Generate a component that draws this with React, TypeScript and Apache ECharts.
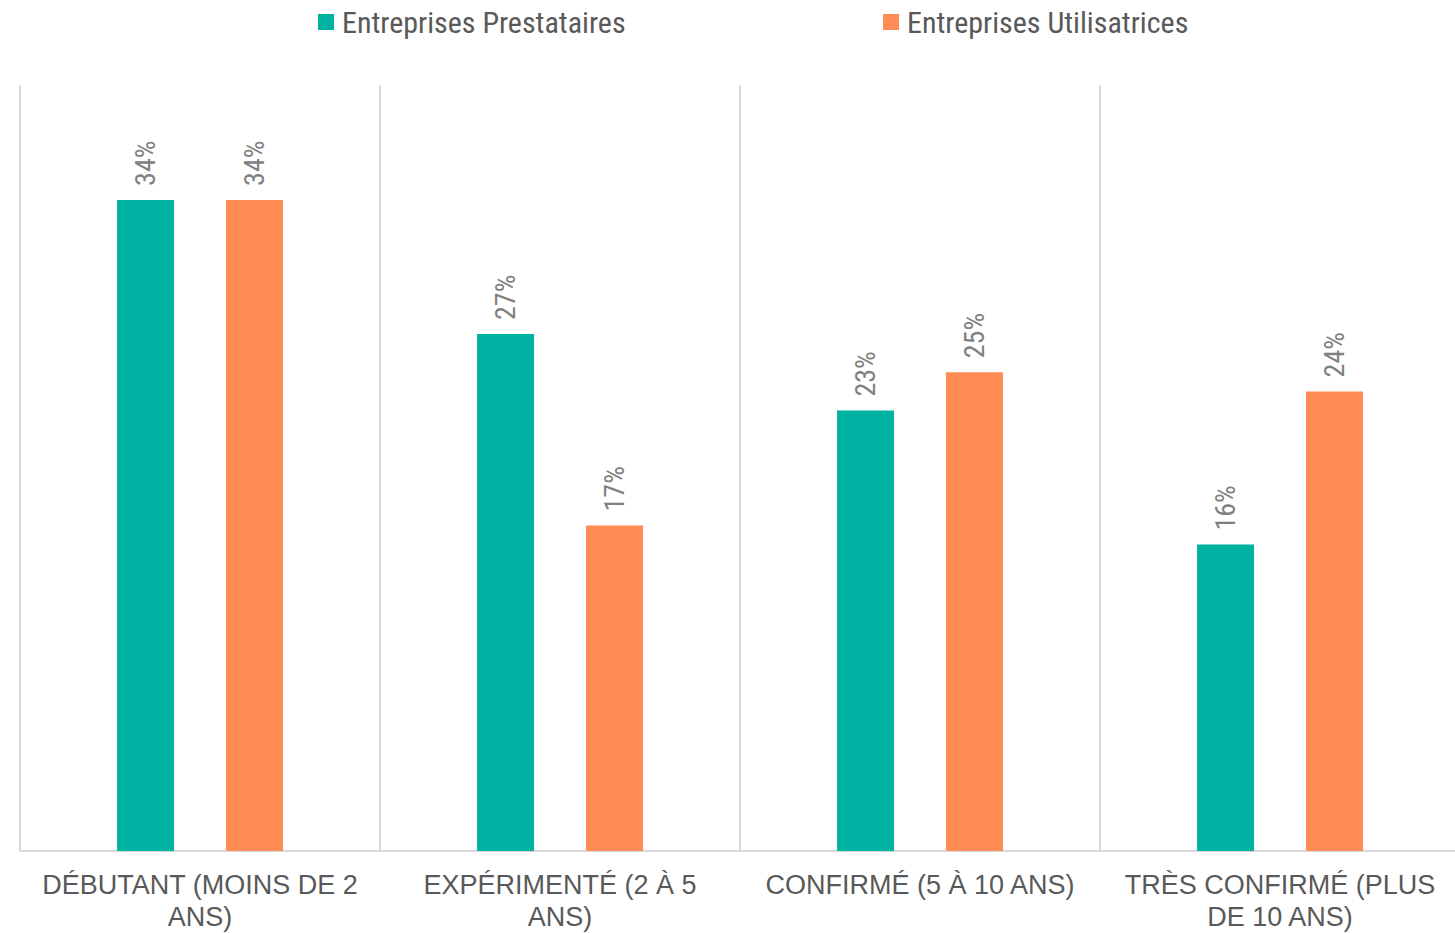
import React, { useEffect, useRef } from "react";
import * as echarts from "echarts";

const categories = [
  "DÉBUTANT (MOINS DE 2\nANS)",
  "EXPÉRIMENTÉ (2 À 5\nANS)",
  "CONFIRMÉ (5 À 10 ANS)",
  "TRÈS CONFIRMÉ (PLUS\nDE 10 ANS)",
];
const prestataires = [34, 27, 23, 16];
const utilisatrices = [34, 17, 25, 24];
const seriesNames = ["Entreprises Prestataires", "Entreprises Utilisatrices"];
const colors = ["#00B2A2", "#FF8B55"];

const narrow = "'Liberation Sans Narrow', 'Roboto Condensed', 'Arial Narrow', Roboto, sans-serif";

export default function App() {
  const ref = useRef<HTMLDivElement>(null);
  useEffect(() => {
    if (!ref.current) return;
    const chart = echarts.init(ref.current, undefined, { renderer: "svg" });
    const label = {
      show: true,
      position: "top",
      rotate: 90,
      align: "left",
      verticalAlign: "middle",
      distance: 14,
      formatter: "{c}%",
      color: "#808080",
      fontSize: 28,
      fontFamily: narrow,
    };
    const legendText = {
      color: "#595959",
      fontSize: 30,
      fontFamily: narrow,
      padding: [0, 0, 0, 3],
    };
    chart.setOption({
      animation: false,
      color: colors,
      legend: [
        {
          data: [seriesNames[0]],
          left: 318,
          top: 7,
          padding: 0,
          itemWidth: 16,
          itemHeight: 16,
          icon: "rect",
          textStyle: legendText,
        },
        {
          data: [seriesNames[1]],
          left: 883,
          top: 7,
          padding: 0,
          itemWidth: 16,
          itemHeight: 16,
          icon: "rect",
          textStyle: legendText,
        },
      ],
      grid: { left: 20, right: 5, top: 85, bottom: 82, containLabel: false },
      xAxis: {
        type: "category",
        data: categories,
        axisTick: { show: false },
        axisLine: { lineStyle: { color: "#D9D9D9", width: 2 } },
        splitLine: { show: true, interval: 0, lineStyle: { color: "#D9D9D9", width: 2 } },
        axisLabel: {
          interval: 0,
          margin: 18,
          color: "#595959",
          fontSize: 27,
          lineHeight: 32,
          fontFamily: "'Liberation Sans', Arial, sans-serif",
        },
      },
      yAxis: { type: "value", min: 0, max: 40, show: false, splitLine: { show: false } },
      series: [
        {
          name: seriesNames[0],
          type: "bar",
          data: prestataires,
          barWidth: 57,
          barGap: "91%",
          label,
        },
        {
          name: seriesNames[1],
          type: "bar",
          data: utilisatrices,
          barWidth: 57,
          barGap: "91%",
          label,
        },
      ],
    });
    return () => chart.dispose();
  }, []);
  return (
    <div
      style={{
        position: "absolute",
        left: 0,
        top: 0,
        width: 1455,
        height: 933,
        overflow: "hidden",
        background: "#fff",
      }}
    >
      <div ref={ref} style={{ width: 1465, height: 933 }} />
    </div>
  );
}
